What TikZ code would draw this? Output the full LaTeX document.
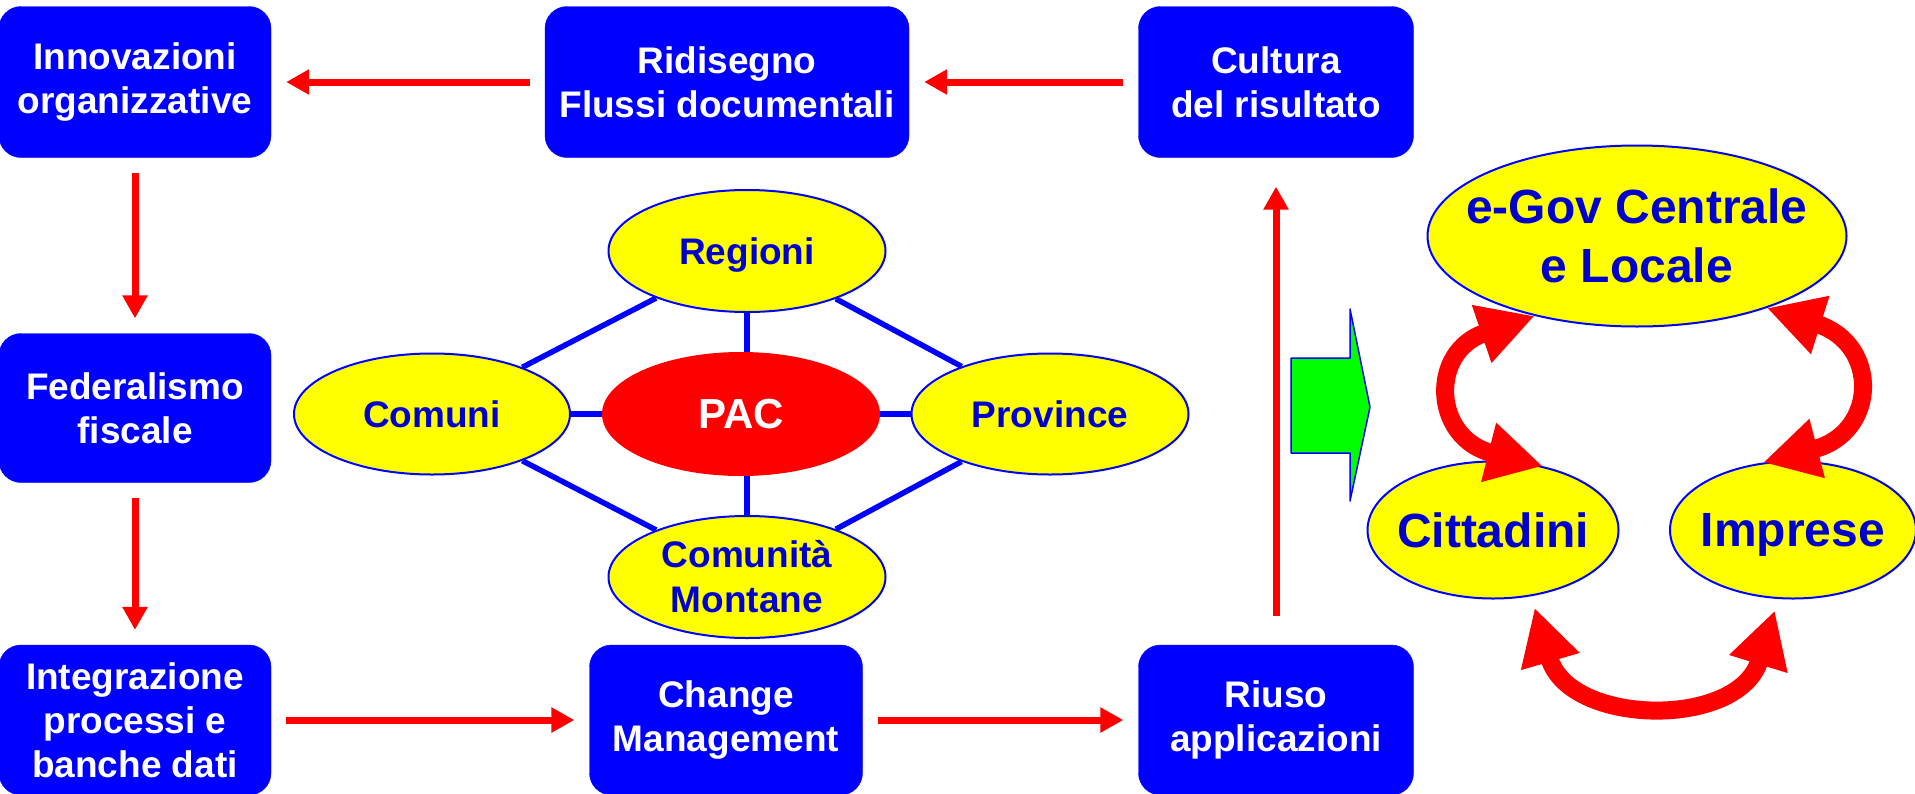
\documentclass[tikz,border=0pt]{standalone}
\usepackage{fontspec}
\setmainfont{Liberation Sans}
\usepackage{pgf,tikz}
\usetikzlibrary{arrows.meta}
\usetikzlibrary{shapes.geometric}
\definecolor{pblue}{RGB}{0,0,255}
\definecolor{dblue}{RGB}{0,0,204}
\definecolor{pred}{RGB}{255,0,0}
\definecolor{pyellow}{RGB}{255,255,0}
\definecolor{pgreen}{RGB}{0,255,0}

\begin{document}
\begin{tikzpicture}[line join=round,x=1pt,y=-1pt,
  >={Triangle[length=23pt,width=24pt]},
  box/.style={rectangle,rounded corners=22pt,fill=pblue,draw=pblue,text=white,align=center,inner sep=0pt,font=\fontsize{37}{44}\selectfont\bfseries},
  ent/.style={ellipse,fill=pyellow,draw=pblue,line width=2pt,text=dblue,align=center,inner sep=0pt,font=\fontsize{37}{45}\selectfont\bfseries},
  big/.style={ent,inner xsep=-30pt,font=\fontsize{48}{59}\selectfont\bfseries},
  link/.style={pblue,line width=5.5pt},
  flow/.style={->,pred,line width=7pt,shorten <=15pt,shorten >=15pt},
  loop/.style={{Triangle[length=56pt,width=57pt]}-{Triangle[length=56pt,width=57pt]},pred,line width=18pt}]
\useasboundingbox (0,0) rectangle (1915,793);
\node[box,minimum width=272pt,minimum height=151pt] (inno) at (135,82) {Innovazioni\\organizzative};
\node[box,minimum width=364pt,minimum height=151pt] (ridis) at (727,82) {Ridisegno\\Flussi documentali};
\node[box,minimum width=275pt,minimum height=151pt] (cult) at (1276,82) {Cultura\\del risultato};
\node[box,minimum width=272pt,minimum height=149pt] (feder) at (135,408) {Federalismo\\fiscale};
\node[box,minimum width=272pt,minimum height=150pt] (integ) at (135,720) {Integrazione\\processi e\\banche dati};
\node[box,minimum width=273pt,minimum height=150pt] (change) at (726,720) {Change\\Management};
\node[box,minimum width=275pt,minimum height=150pt] (riuso) at (1276,720) {Riuso\\applicazioni};
\draw[flow] (ridis) -- (inno);
\draw[flow] (cult) -- (ridis);
\draw[flow] (inno) -- (feder);
\draw[flow] (feder) -- (integ);
\draw[flow] (integ) -- (change);
\draw[flow] (change) -- (riuso);
\draw[flow,shorten <=29pt,shorten >=29pt] (riuso) -- (cult);
\node[ent,text depth=0pt,minimum width=277pt,minimum height=122pt] (reg) at (747,251) {Regioni};
\node[ent,minimum width=276pt,minimum height=121pt] (comuni) at (432,414) {Comuni};
\node[ellipse,fill=pred,text=white,inner sep=0pt,minimum width=278pt,minimum height=124pt,font=\fontsize{42}{50}\selectfont\bfseries] (pac) at (741,414) {PAC};
\node[ent,minimum width=277pt,minimum height=121pt] (prov) at (1050,414) {Province};
\node[ent,minimum width=277pt,minimum height=122pt] (cmont) at (747,577) {Comunità\\Montane};
\draw[link] (reg.south) -- (pac.north -| reg.south);
\draw[link] (cmont.north) -- (pac.south -| cmont.north);
\draw[link] (comuni) -- (pac);
\draw[link] (pac) -- (prov);
\draw[link] (reg) -- (comuni);
\draw[link] (reg) -- (prov);
\draw[link] (comuni) -- (cmont);
\draw[link] (prov) -- (cmont);
\draw[draw=pblue,fill=pgreen,line width=1.5pt] (1291,358) -- (1350,358) -- (1350,309) -- (1370,407) -- (1350,501) -- (1350,453) -- (1291,453) -- cycle;
\node[big,minimum width=419pt,minimum height=181pt] (egov) at (1637,236) {e-Gov Centrale\\e Locale};
\node[big,minimum width=251pt,minimum height=137pt] (citt) at (1493,530) {Cittadini};
\node[big,text depth=0pt,minimum width=246pt,minimum height=137pt] (impr) at (1793,530) {Imprese};
\draw[loop] (egov.218) .. controls +(-106,36) and +(-110,-28) .. (citt.52);
\draw[loop] (egov.331) .. controls +(113,36) and +(115,-30) .. (impr.114);
\draw[loop,shorten <=12pt,shorten >=12pt] (citt.300) .. controls +(38,130) and +(-40,130) .. (impr.258);
\end{tikzpicture}
\end{document}
